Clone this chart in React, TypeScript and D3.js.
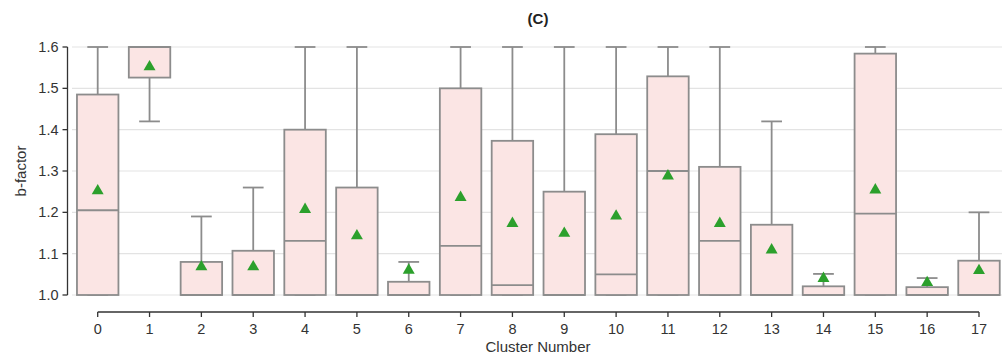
import React from "react";
import * as d3 from "d3";

// Per-cluster b-factor summaries
const clusters = ["0","1","2","3","4","5","6","7","8","9","10","11","12","13","14","15","16","17"];
const whiskerLow = [1.0, 1.42, 1.0, 1.0, 1.0, 1.0, 1.0, 1.0, 1.0, 1.0, 1.0, 1.0, 1.0, 1.0, 1.0, 1.0, 1.0, 1.0];
const q1 = [1.0, 1.526, 1.0, 1.0, 1.0, 1.0, 1.0, 1.0, 1.0, 1.0, 1.0, 1.0, 1.0, 1.0, 1.0, 1.0, 1.0, 1.0];
const medians = [1.205, 1.6, 1.0, 1.0, 1.131, 1.0, 1.0, 1.119, 1.024, 1.0, 1.05, 1.30, 1.131, 1.0, 1.0, 1.197, 1.0, 1.0];
const q3 = [1.485, 1.6, 1.08, 1.107, 1.40, 1.26, 1.032, 1.50, 1.373, 1.25, 1.389, 1.529, 1.31, 1.17, 1.021, 1.584, 1.019, 1.083];
const whiskerHigh = [1.6, 1.6, 1.19, 1.26, 1.6, 1.6, 1.08, 1.6, 1.6, 1.6, 1.6, 1.6, 1.6, 1.42, 1.051, 1.6, 1.041, 1.20];
const means = [1.252, 1.552, 1.068, 1.068, 1.207, 1.143, 1.06, 1.236, 1.173, 1.149, 1.191, 1.288, 1.173, 1.109, 1.04, 1.254, 1.03, 1.059];
const yTicks = [1.0, 1.1, 1.2, 1.3, 1.4, 1.5, 1.6];

const W = 1006;
const H = 356;
const FONT = "'Liberation Sans', Arial, sans-serif";
const BOX_STROKE = "#8c8c8c";
const BOX_FILL = "#fbe5e4";

export default function App() {
  const x = d3.scalePoint<string>().domain(clusters).range([97.7, 979]);
  const step = x.step();
  const boxW = step * 0.8;
  const y = d3.scaleLinear().domain([1.0, 1.6]).range([295, 47]);
  const yAxisX = 67.5;
  const xAxisY = 312;
  const tri = d3.symbol().type(d3.symbolTriangle).size(62)();

  return (
    <svg width={W} height={H} style={{ position: "absolute", left: 0, top: 0, background: "#fff" }}>
      {/* grid */}
      {yTicks.map((t) => (
        <line key={"g" + t} x1={72} x2={1002} y1={y(t)} y2={y(t)} stroke="#e3e3e3" strokeWidth={1.2} />
      ))}

      {/* boxes */}
      {clusters.map((c, i) => {
        const cx = x(c)!;
        const capW = boxW / 2;
        return (
          <g key={c}>
            <line x1={cx} x2={cx} y1={y(q3[i])} y2={y(whiskerHigh[i])} stroke={BOX_STROKE} strokeWidth={1.8} />
            <line x1={cx} x2={cx} y1={y(q1[i])} y2={y(whiskerLow[i])} stroke={BOX_STROKE} strokeWidth={1.8} />
            <line x1={cx - capW / 2} x2={cx + capW / 2} y1={y(whiskerHigh[i])} y2={y(whiskerHigh[i])} stroke={BOX_STROKE} strokeWidth={1.8} />
            <line x1={cx - capW / 2} x2={cx + capW / 2} y1={y(whiskerLow[i])} y2={y(whiskerLow[i])} stroke={BOX_STROKE} strokeWidth={1.8} />
            <rect x={cx - boxW / 2} y={y(q3[i])} width={boxW} height={y(q1[i]) - y(q3[i])} fill={BOX_FILL} stroke={BOX_STROKE} strokeWidth={1.8} />
            <line x1={cx - boxW / 2} x2={cx + boxW / 2} y1={y(medians[i])} y2={y(medians[i])} stroke={BOX_STROKE} strokeWidth={1.8} />
            <path d={tri!} transform={`translate(${cx},${y(means[i])})`} fill="#2ca02c" />
          </g>
        );
      })}

      {/* y axis */}
      <line x1={yAxisX} x2={yAxisX} y1={y(1.0)} y2={y(1.6)} stroke="#333" strokeWidth={1.3} />
      {yTicks.map((t) => (
        <g key={"y" + t}>
          <line x1={yAxisX - 5} x2={yAxisX} y1={y(t)} y2={y(t)} stroke="#333" strokeWidth={1.3} />
          <text x={yAxisX - 9} y={y(t)} dy="0.35em" textAnchor="end" fontFamily={FONT} fontSize={14.5} fill="#333">
            {t.toFixed(1)}
          </text>
        </g>
      ))}
      <text transform={`translate(21,171) rotate(-90)`} textAnchor="middle" dy="0.35em" fontFamily={FONT} fontSize={15} fill="#333">
        b-factor
      </text>

      {/* x axis */}
      <line x1={x(clusters[0])!} x2={x(clusters[clusters.length - 1])!} y1={xAxisY} y2={xAxisY} stroke="#333" strokeWidth={1.3} />
      {clusters.map((c) => (
        <g key={"x" + c}>
          <line x1={x(c)!} x2={x(c)!} y1={xAxisY} y2={xAxisY + 5} stroke="#333" strokeWidth={1.3} />
          <text x={x(c)!} y={xAxisY + 17} dy="0.35em" textAnchor="middle" fontFamily={FONT} fontSize={14.5} fill="#333">
            {c}
          </text>
        </g>
      ))}
      <text x={538} y={347} dy="0.35em" textAnchor="middle" fontFamily={FONT} fontSize={15} fill="#333">
        Cluster Number
      </text>

      {/* title */}
      <text x={538} y={19} dy="0.35em" textAnchor="middle" fontFamily={FONT} fontSize={15} fontWeight="bold" fill="#222">
        (C)
      </text>
    </svg>
  );
}
